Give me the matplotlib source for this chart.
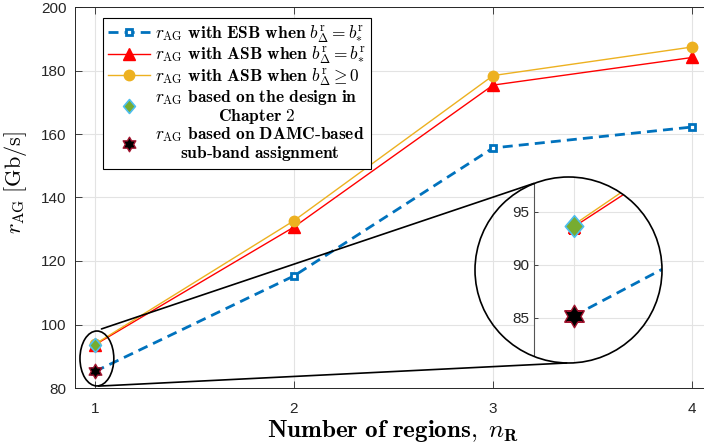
import matplotlib.pyplot as plt
from matplotlib.patches import Ellipse, ConnectionPatch
from matplotlib.path import Path as MPath

plt.rcParams['mathtext.fontset'] = 'cm'
plt.rcParams['font.family'] = ['Liberation Sans', 'DejaVu Sans']

# data
regions = [1, 2, 3, 4]
rag_esb = [85.2, 115.3, 155.6, 162.2]
rag_asb = [93.6, 130.7, 175.4, 184.1]
rag_asb_pos = [93.8, 132.7, 178.4, 187.4]
chapter2_x = [1]
chapter2_rag = [93.7]
damc_x = [1]
damc_rag = [85.2]

xticks = [1, 2, 3, 4]
yticks = [80, 100, 120, 140, 160, 180, 200]
inset_yticks = [85, 90, 95]

labels = [
    r'$r_{\mathrm{AG}}\ \mathbf{with\ ESB\ when}\ b^{\mathrm{r}}_{\Delta}=b^{\mathrm{r}}_{*}$',
    r'$r_{\mathrm{AG}}\ \mathbf{with\ ASB\ when}\ b^{\mathrm{r}}_{\Delta}=b^{\mathrm{r}}_{*}$',
    r'$r_{\mathrm{AG}}\ \mathbf{with\ ASB\ when}\ b^{\mathrm{r}}_{\Delta}\geq\mathbf{0}$',
    r'$r_{\mathrm{AG}}\ \mathbf{based\ on\ the\ design\ in}$' + '\n' + r'$\mathbf{Chapter\ 2}$',
    r'$r_{\mathrm{AG}}\ \mathbf{based\ on\ DAMC}\text{-}\mathbf{based}$' + '\n'
    + r'$\mathbf{sub}\text{-}\mathbf{band\ assignment}$',
]

hexagram = MPath.unit_regular_star(6, 0.577)
diamond = MPath([(0, 1), (0.85, 0), (0, -1), (-0.85, 0), (0, 1)],
                [MPath.MOVETO, MPath.LINETO, MPath.LINETO, MPath.LINETO, MPath.CLOSEPOLY])
TICK_C = '#262626'


def draw_series(ax, big=1.0):
    hs = []
    hs += ax.plot(regions, rag_esb, color='#0072BD', lw=2, ls=(0, (3.6, 2.2)),
                  marker='s', ms=5, mfc='white', mew=2.0, zorder=3)
    hs += ax.plot(regions, rag_asb, color='#FF0000', lw=1, marker='^', ms=8, zorder=3)
    hs += ax.plot(regions, rag_asb_pos, color='#EDB120', lw=1, marker='o', ms=7.5, zorder=3)
    hs += ax.plot(chapter2_x, chapter2_rag, ls='none', marker=diamond, ms=10 * big,
                  mfc='#77AC30', mec='#4DBEEE', mew=1.2, zorder=4)
    hs += ax.plot(damc_x, damc_rag, ls='none', marker=hexagram, ms=10.5 * big,
                  mfc='black', mec='#A2142F', mew=1.0, zorder=4)
    return hs


fig = plt.figure(figsize=(7.04, 4.48), dpi=100)
ax = fig.add_axes([75 / 704, 1 - 388 / 448, 637 / 704, 381 / 448])
handles = draw_series(ax)

ax.set_xlim(0.9, 4.1)
ax.set_ylim(80, 200)
ax.set_xticks(xticks)
ax.set_yticks(yticks)
ax.grid(True, color='#E3E3E3', lw=0.8)
ax.set_axisbelow(True)
ax.tick_params(direction='in', length=5, width=0.6, colors=TICK_C, labelsize=11,
               top=True, right=True)
ax.tick_params(axis='x', pad=10)
ax.tick_params(axis='y', pad=6)
for s in ax.spines.values():
    s.set_color(TICK_C)
    s.set_linewidth(0.7)
ax.set_xlabel(r'$\mathbf{Number\ of\ regions,}\ n_{\mathbf{R}}$', fontsize=18, labelpad=1.5)
ax.set_ylabel(r'$r_{\mathrm{AG}}\ [\mathrm{Gb/s}]$', fontsize=16)
ax.yaxis.set_label_coords(-0.072, 0.54)

leg = ax.legend(handles, labels, loc='upper left', bbox_to_anchor=(0.044, 0.971),
                borderaxespad=0, fontsize=12.5, handlelength=2.4, fancybox=False,
                framealpha=1, edgecolor='black', labelspacing=0.0, handletextpad=0.3,
                borderpad=0.3)
leg.get_frame().set_linewidth(0.8)
for t in leg.get_texts():
    t.set_linespacing(1.0)
for t in leg.get_texts()[3:]:
    t.set_multialignment('center')

# zoom region around n_R = 1
ax.add_patch(Ellipse((1.01, 89.3), 0.17, 17.3, fill=False, color='black', lw=1.2, zorder=5))

# circular magnified inset
circle = Ellipse((568.5 / 704, 1 - 270 / 448), 187 / 704, 186 / 448,
                 transform=fig.transFigure, fill=False, color='black', lw=1.2, zorder=10)
fig.patches.append(circle)

axin = fig.add_axes([534 / 704, 1 - 363 / 448, 130 / 704, 186 / 448])
draw_series(axin, big=1.55)
axin.set_xlim(0.934, 1.149)
axin.set_ylim(80.75, 98.3)
axin.set_xticks([1])
axin.set_yticks(inset_yticks)
axin.grid(True, color='#E3E3E3', lw=0.8)
axin.set_axisbelow(True)
axin.tick_params(axis='x', length=0, labelbottom=False)
axin.tick_params(axis='y', direction='in', length=3, width=0.6, colors=TICK_C, labelsize=11)
for name, s in axin.spines.items():
    s.set_visible(name == 'left')
axin.spines['left'].set_color('#555555')
axin.spines['left'].set_linewidth(0.8)
axin.patch.set_clip_path(circle)
for art in axin.lines + axin.get_xgridlines() + axin.get_ygridlines() + [axin.spines['left']]:
    art.set_clip_path(circle)

# connector lines from the small ellipse to the circle
for pa, pb in [((1.033, 98.6), (0.934, 97.7)), ((1.018, 80.6), (0.988, 80.75))]:
    con = ConnectionPatch(xyA=pa, coordsA=ax.transData, xyB=pb, coordsB=axin.transData,
                          color='black', lw=1.2, zorder=9)
    fig.add_artist(con)

fig.savefig('out.png', dpi=100)
